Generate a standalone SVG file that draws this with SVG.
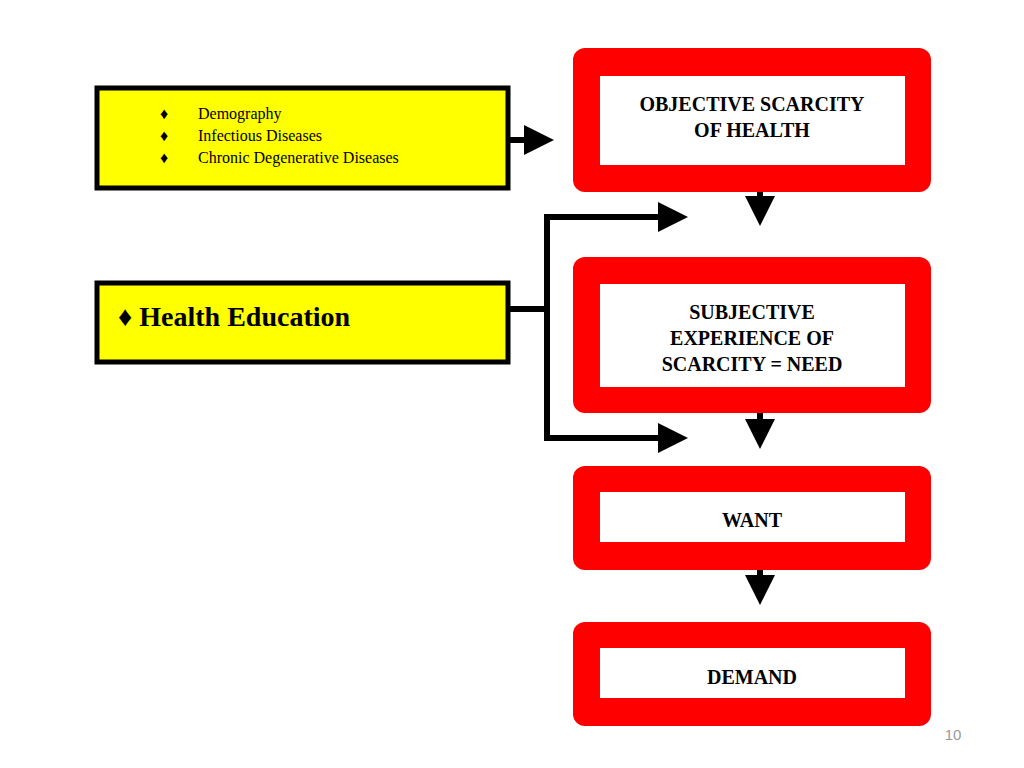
<svg xmlns="http://www.w3.org/2000/svg" width="1024" height="768" viewBox="0 0 1024 768">
<style>
.red{fill:#ff0000}
.inner{fill:#fff}
.yl{fill:#ffff00;stroke:#000;stroke-width:5}
.t{font-family:"Liberation Serif",serif;font-weight:bold;font-size:20px;text-anchor:middle;fill:#000}
.s{font-family:"Liberation Serif",serif;font-size:16px;fill:#000}
.ln{stroke:#000;stroke-width:6;fill:none}
</style>
<defs>
<marker id="ah" markerWidth="5" markerHeight="5" refX="4" refY="2.5" orient="auto" markerUnits="strokeWidth"><path d="M0,0L5,2.5L0,5Z" fill="#000"/></marker>
</defs>
<rect width="1024" height="768" fill="#fff"/>
<g id="yellow1"><rect class="yl" x="97" y="88" width="411" height="100"/>
<text class="s" x="160" y="119">♦</text><text class="s" x="198" y="119">Demography</text>
<text class="s" x="160" y="141">♦</text><text class="s" x="198" y="141">Infectious Diseases</text>
<text class="s" x="160" y="163">♦</text><text class="s" x="198" y="163">Chronic Degenerative Diseases</text></g>
<g id="yellow2"><rect class="yl" x="97" y="283" width="411" height="79"/>
<text x="118" y="326" style="font-family:'Liberation Serif',serif;font-weight:bold;font-size:28px">♦  Health Education</text></g>
<g id="box1"><rect class="red" x="573" y="48" width="358" height="144" rx="12"/><rect class="inner" x="600" y="76" width="305" height="89"/>
<text class="t" x="752" y="111">OBJECTIVE SCARCITY</text><text class="t" x="752" y="137">OF HEALTH</text></g>
<g id="box2"><rect class="red" x="573" y="257" width="358" height="156" rx="12"/><rect class="inner" x="600" y="284" width="305" height="103"/>
<text class="t" x="752" y="319">SUBJECTIVE</text><text class="t" x="752" y="345">EXPERIENCE OF</text><text class="t" x="752" y="371">SCARCITY = NEED</text></g>
<g id="box3"><rect class="red" x="573" y="466" width="358" height="104" rx="12"/><rect class="inner" x="600" y="492" width="305" height="50"/>
<text class="t" x="752" y="527">WANT</text></g>
<g id="box4"><rect class="red" x="573" y="622" width="358" height="104" rx="12"/><rect class="inner" x="600" y="648" width="305" height="50"/>
<text class="t" x="752" y="684">DEMAND</text></g>
<g id="connectors">
<line class="ln" x1="510" y1="140" x2="548" y2="140" marker-end="url(#ah)"/>
<line class="ln" x1="760" y1="192" x2="760" y2="220" marker-end="url(#ah)"/>
<line class="ln" x1="760" y1="413" x2="760" y2="443" marker-end="url(#ah)"/>
<line class="ln" x1="760" y1="570" x2="760" y2="599" marker-end="url(#ah)"/>
<line class="ln" x1="508" y1="309" x2="547" y2="309"/>
<polyline class="ln" points="682,217 547,217 547,438 682,438"/>
<line class="ln" x1="670" y1="217" x2="682" y2="217" marker-end="url(#ah)"/>
<line class="ln" x1="670" y1="438" x2="682" y2="438" marker-end="url(#ah)"/>
</g>
<text x="953" y="740" style="font-family:'Liberation Sans',sans-serif;font-size:15px;fill:#999;text-anchor:middle">10</text>
</svg>
